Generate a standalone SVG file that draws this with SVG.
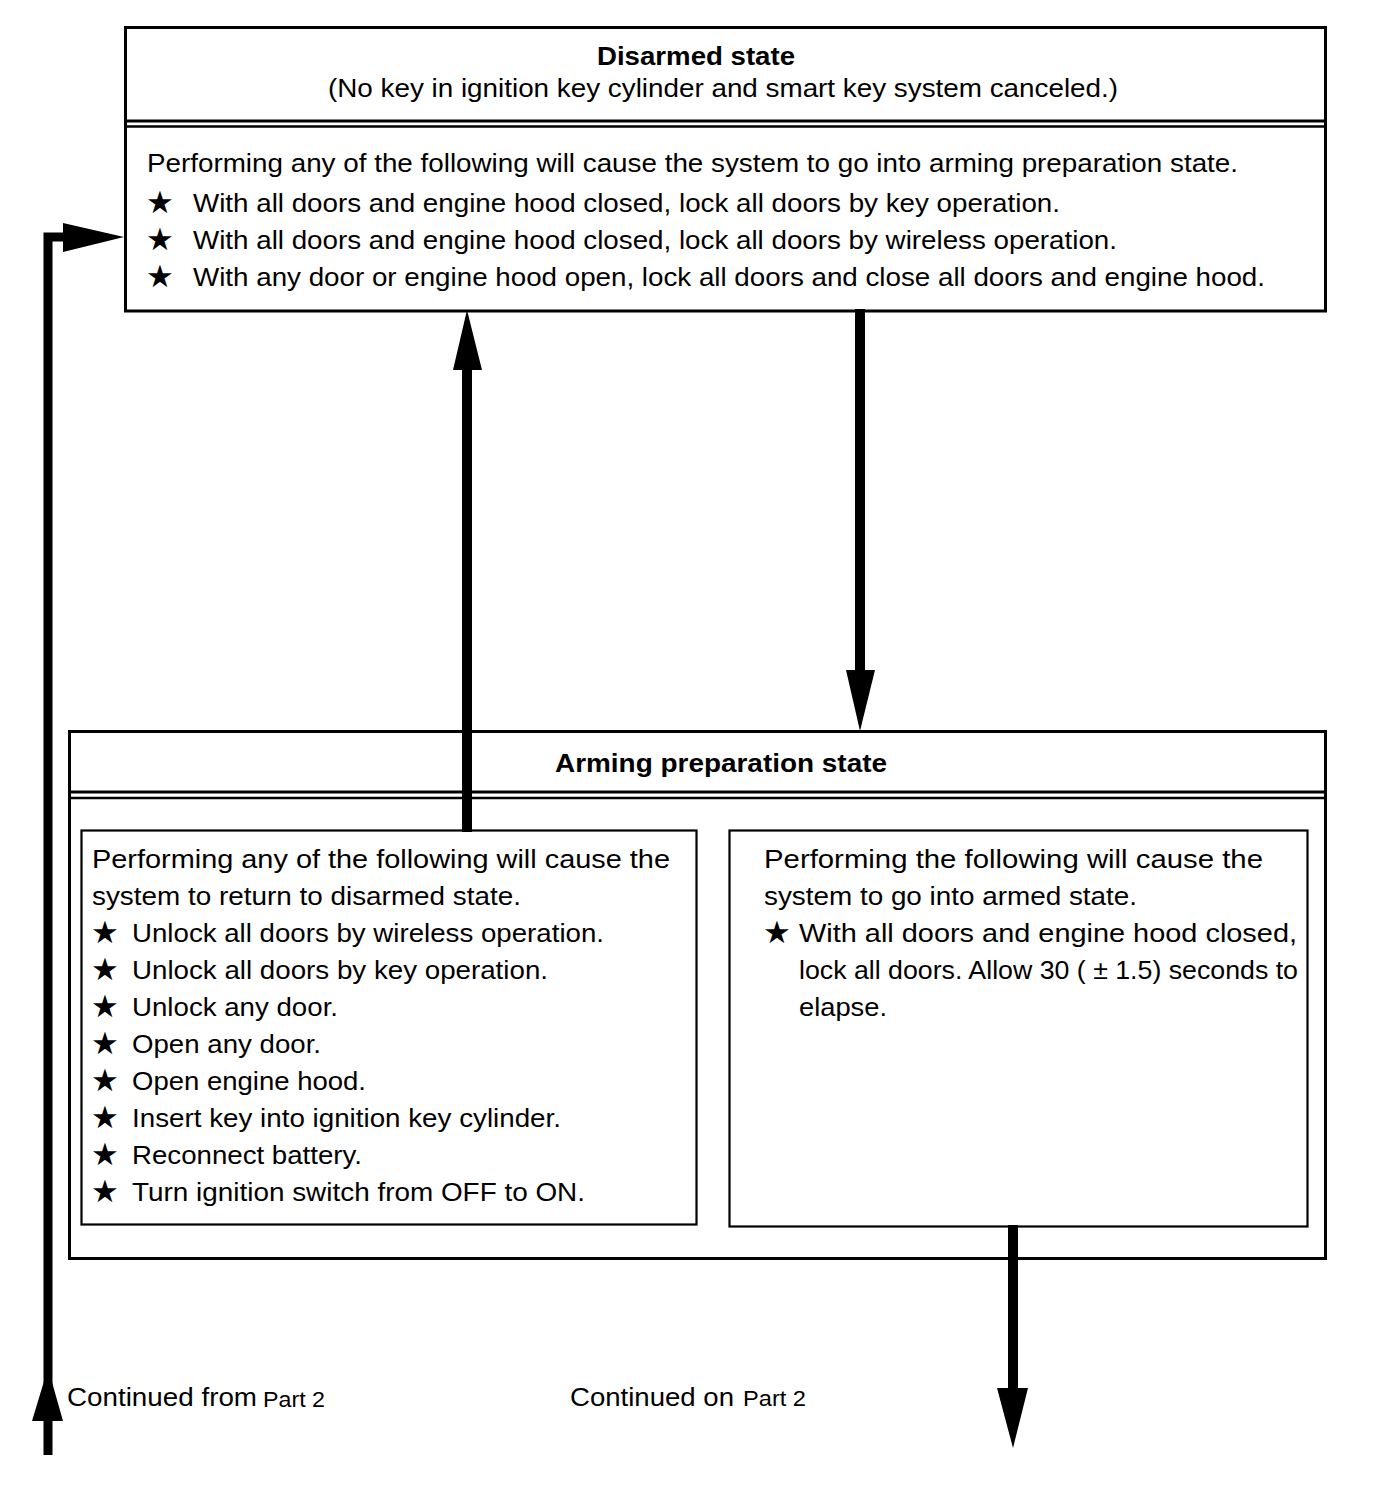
<svg xmlns="http://www.w3.org/2000/svg" width="1376" height="1504" viewBox="0 0 1376 1504">
<style>
.box{fill:none;stroke:#000;stroke-width:3}
.ibox{fill:none;stroke:#000;stroke-width:2.200}
.t{font-family:"Liberation Sans",Arial,sans-serif;font-size:26px;fill:#000}
.b{font-weight:bold;font-size:25px}
.s{font-size:22px}
.star{font-family:"DejaVu Sans",sans-serif;font-size:31px;fill:#000}
.ln{stroke:#000;fill:none}
</style>
<rect width="1376" height="1504" fill="#fff"/>
<g id="disarmed">
<rect class="box" x="125.500" y="27.500" width="1200" height="283.500"/>
<line class="ln" x1="125" y1="121" x2="1326" y2="121" stroke-width="3"/>
<line class="ln" x1="125" y1="126.500" x2="1326" y2="126.500" stroke-width="2.500"/>
<text class="t b" x="696" y="65" text-anchor="middle" textLength="198" lengthAdjust="spacingAndGlyphs">Disarmed state</text>
<text class="t" x="723" y="97" text-anchor="middle" textLength="790" lengthAdjust="spacingAndGlyphs">(No key in ignition key cylinder and smart key system canceled.)</text>
<text class="t" x="147" y="172" textLength="1091" lengthAdjust="spacingAndGlyphs">Performing any of the following will cause the system to go into arming preparation state.</text>
<text class="star" x="146" y="213">★</text>
<text class="t" x="193" y="212" textLength="867" lengthAdjust="spacingAndGlyphs">With all doors and engine hood closed, lock all doors by key operation.</text>
<text class="star" x="146" y="250">★</text>
<text class="t" x="193" y="249" textLength="924" lengthAdjust="spacingAndGlyphs">With all doors and engine hood closed, lock all doors by wireless operation.</text>
<text class="star" x="146" y="287">★</text>
<text class="t" x="193" y="286" textLength="1072" lengthAdjust="spacingAndGlyphs">With any door or engine hood open, lock all doors and close all doors and engine hood.</text>
</g>
<g id="arming">
<rect class="box" x="69.500" y="731.500" width="1256" height="527"/>
<line class="ln" x1="69" y1="792" x2="1326" y2="792" stroke-width="3"/>
<line class="ln" x1="69" y1="798" x2="1326" y2="798" stroke-width="2.500"/>
<text class="t b" x="721" y="772" text-anchor="middle" textLength="332" lengthAdjust="spacingAndGlyphs">Arming preparation state</text>
</g>
<g id="return-disarmed">
<rect class="ibox" x="81.500" y="830.500" width="615" height="394"/>
<text class="t" x="92" y="868" textLength="578" lengthAdjust="spacingAndGlyphs">Performing any of the following will cause the</text>
<text class="t" x="92" y="905" textLength="429" lengthAdjust="spacingAndGlyphs">system to return to disarmed state.</text>
<text class="star" x="91" y="943">★</text>
<text class="t" x="132" y="942" textLength="472" lengthAdjust="spacingAndGlyphs">Unlock all doors by wireless operation.</text>
<text class="star" x="91" y="980">★</text>
<text class="t" x="132" y="979" textLength="416" lengthAdjust="spacingAndGlyphs">Unlock all doors by key operation.</text>
<text class="star" x="91" y="1017">★</text>
<text class="t" x="132" y="1016" textLength="206" lengthAdjust="spacingAndGlyphs">Unlock any door.</text>
<text class="star" x="91" y="1054">★</text>
<text class="t" x="132" y="1053" textLength="189" lengthAdjust="spacingAndGlyphs">Open any door.</text>
<text class="star" x="91" y="1091">★</text>
<text class="t" x="132" y="1090" textLength="234" lengthAdjust="spacingAndGlyphs">Open engine hood.</text>
<text class="star" x="91" y="1128">★</text>
<text class="t" x="132" y="1127" textLength="429" lengthAdjust="spacingAndGlyphs">Insert key into ignition key cylinder.</text>
<text class="star" x="91" y="1165">★</text>
<text class="t" x="132" y="1164" textLength="230" lengthAdjust="spacingAndGlyphs">Reconnect battery.</text>
<text class="star" x="91" y="1202">★</text>
<text class="t" x="132" y="1201" textLength="453" lengthAdjust="spacingAndGlyphs">Turn ignition switch from OFF to ON.</text>
</g>
<g id="go-armed">
<rect class="ibox" x="729.500" y="830.500" width="578" height="396"/>
<text class="t" x="764" y="868" textLength="499" lengthAdjust="spacingAndGlyphs">Performing the following will cause the</text>
<text class="t" x="764" y="905" textLength="373" lengthAdjust="spacingAndGlyphs">system to go into armed state.</text>
<text class="star" x="763" y="943">★</text>
<text class="t" x="799" y="942" textLength="498" lengthAdjust="spacingAndGlyphs">With all doors and engine hood closed,</text>
<text class="t" x="799" y="979" textLength="499" lengthAdjust="spacingAndGlyphs">lock all doors. Allow 30 ( ± 1.5) seconds to</text>
<text class="t" x="799" y="1016" textLength="88" lengthAdjust="spacingAndGlyphs">elapse.</text>
</g>
<g id="labels">
<text class="t" x="67" y="1406" textLength="190" lengthAdjust="spacingAndGlyphs">Continued from</text>
<text class="t s" x="263" y="1407" textLength="62" lengthAdjust="spacingAndGlyphs">Part 2</text>
<text class="t" x="570" y="1406" textLength="164" lengthAdjust="spacingAndGlyphs">Continued on</text>
<text class="t s" x="743" y="1406" textLength="63" lengthAdjust="spacingAndGlyphs">Part 2</text>
</g>
<g id="connectors">
<line class="ln" x1="467" y1="832" x2="467" y2="366" stroke-width="10"/>
<polygon points="467,310 453,370 482,370" fill="#000"/>
<line class="ln" x1="860" y1="309" x2="860" y2="675" stroke-width="10"/>
<polygon points="860,731 846,670 875,670" fill="#000"/>
<polyline class="ln" points="48,1455 48,237 68,237" stroke-width="9"/>
<polygon points="124,237 63,223 63,252" fill="#000"/>
<polygon points="48,1368 32,1421 63,1421" fill="#000"/>
<line class="ln" x1="1013" y1="1225" x2="1013" y2="1392" stroke-width="10"/>
<polygon points="1013,1448 997,1388 1028,1388" fill="#000"/>
</g>
</svg>
